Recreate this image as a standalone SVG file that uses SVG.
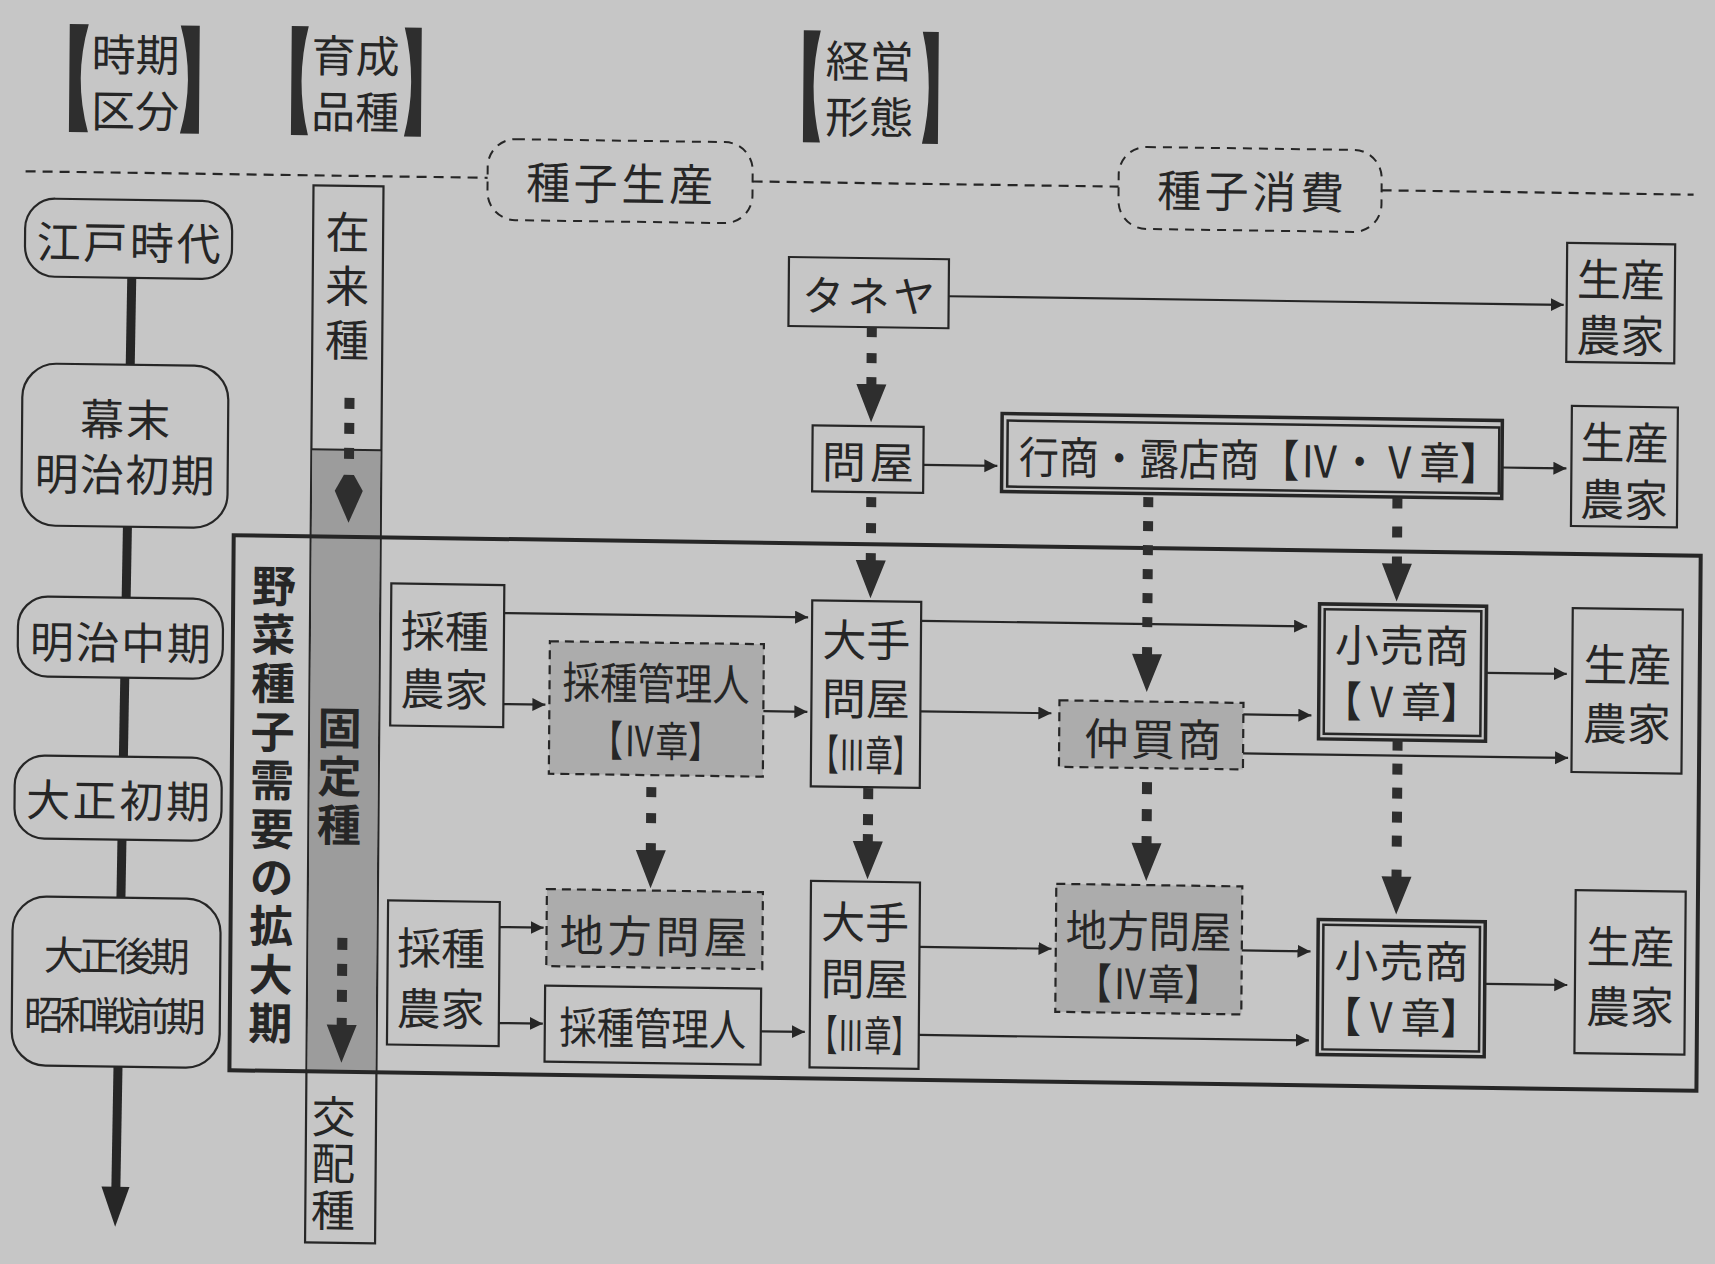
<svg xmlns="http://www.w3.org/2000/svg" width="1715" height="1264" viewBox="0 0 1715 1264">
<defs>
<style>
.t{font-family:"Liberation Sans","Noto Sans CJK JP",sans-serif;font-size:44px;fill:#262626;text-anchor:middle;dominant-baseline:central;transform:translate(0px,4px)}
.v{writing-mode:vertical-rl;transform:translate(-4px,0px)}
.b{font-weight:700}
.s40{font-size:40px}
.s42{font-size:42px}
.box{fill:#c6c6c6;stroke:#262626;stroke-width:2.2}
.shade{fill:#acacac;stroke:#262626;stroke-width:2.2;stroke-dasharray:9 6}
.rdash{fill:none;stroke:#262626;stroke-width:2;stroke-dasharray:9 7}
.sep{fill:none;stroke:#262626;stroke-width:2.2;stroke-dasharray:10 7}
.dbo{fill:none;stroke:#262626;stroke-width:3.5}
.dbi{fill:none;stroke:#262626;stroke-width:2.5}
.ln{stroke:#262626;stroke-width:2.2;fill:none;marker-end:url(#ah)}
.dot{stroke:#2e2e2e;stroke-width:10;fill:none}
.brk{fill:#2e2e2e}
</style>
<marker id="ah" markerUnits="userSpaceOnUse" markerWidth="14" markerHeight="14" refX="13" refY="6.5" orient="auto"><path d="M0,0 L13,6.5 L0,13 z" fill="#262626"/></marker>
<path id="hd" d="M-5,-45 H5 V-38 H15 L0,0 L-15,-38 H-5 Z" fill="#2e2e2e"/>
<path id="kite" d="M-5,-48 H5 L14,-32 L0,0 L-14,-32 Z" fill="#2e2e2e"/>
</defs>
<rect width="1715" height="1264" fill="#c6c6c6"/>
<g transform="matrix(1 0.014 -0.008 1 5.056 -12)">

<g id="separator"><path class="sep" d="M22 183H484M749 183H1115M1378 183H1690"/></g>

<g id="timeline">
<path d="M129 288 L120.4 1199" stroke="#262626" stroke-width="9" fill="none"/>
<polygon points="106,1197 134,1197 120,1237" fill="#262626"/>
</g>

<g id="h-jiki">
<path class="brk" d="M65 35H84Q68.8 89 84 143H65Z"/>
<path class="brk" d="M195 35H176Q191.2 89 176 143H195Z"/>
<text class="t" x="131" y="62">時期</text>
<text class="t" x="131" y="118">区分</text>
</g>
<g id="h-ikusei">
<path class="brk" d="M287 34H304Q290.4 88.5 304 143H287Z"/>
<path class="brk" d="M417 34H400Q413.6 88.5 400 143H417Z"/>
<text class="t" x="351" y="60">育成</text>
<text class="t" x="351" y="116">品種</text>
</g>
<g id="h-keiei">
<path class="brk" d="M799 31H816Q802.4 87 816 143H799Z"/>
<path class="brk" d="M934 31H918Q930.8 87 918 143H934Z"/>
<text class="t" x="865" y="58">経営</text>
<text class="t" x="865" y="114">形態</text>
</g>

<g id="l-seisan"><rect class="rdash" x="484" y="144" width="265" height="81" rx="28"/><text class="t" x="616" y="184" textLength="187">種子生産</text></g>
<g id="l-shohi"><rect class="rdash" x="1115" y="143" width="263" height="82" rx="28"/><text class="t" x="1247" y="183" textLength="187">種子消費</text></g>

<g id="p-edo"><rect class="box" x="22" y="210" width="207" height="78" rx="30"/><text class="t" x="125.5" y="250" textLength="184">江戸時代</text></g>
<g id="p-bakumatsu"><rect class="box" x="20.5" y="375" width="206" height="162" rx="34"/><text class="t" x="123.5" y="427" textLength="90">幕末</text><text class="t" x="123.5" y="482" textLength="180">明治初期</text></g>
<g id="p-meijichu"><rect class="box" x="18" y="608" width="205" height="80" rx="30"/><text class="t" x="120.5" y="650" textLength="181">明治中期</text></g>
<g id="p-taishosho"><rect class="box" x="16" y="767" width="207" height="83" rx="30"/><text class="t" x="119.5" y="808" textLength="184">大正初期</text></g>
<g id="p-taishoko"><rect class="box" x="15" y="908" width="208" height="169" rx="34"/><text class="t s40" x="119.5" y="963" textLength="146">大正後期</text><text class="t s40" x="118" y="1023" textLength="182">昭和戦前期</text></g>

<g id="variety-column">
<rect x="310" y="193" width="70" height="1057" fill="#c6c6c6" stroke="#262626" stroke-width="2.2"/>
<rect x="311" y="457" width="68" height="622" fill="#9c9c9c"/>
<line x1="310" y1="457" x2="380" y2="457" stroke="#262626" stroke-width="2"/>
<text class="t v" x="345" y="298" style="letter-spacing:10px">在来種</text>
<text class="t v b" x="341" y="785.5" style="letter-spacing:4.5px">固定種</text>
<text class="t v" x="338" y="1172" style="letter-spacing:3px">交配種</text>
</g>

<g id="frame">
<rect x="233" y="544" width="1467" height="535" fill="none" stroke="#262626" stroke-width="4"/>
<text class="t v b" x="274" y="814.7" style="letter-spacing:4.6px">野菜種子需要の拡大期</text>
</g>

<g id="n-taneya"><rect class="box" x="786" y="258" width="160" height="69"/><text class="t s42" x="866" y="293" textLength="133">タネヤ</text></g>
<g id="n-tonya"><rect class="box" x="811" y="426" width="111" height="66"/><text class="t" x="866.5" y="459" textLength="92">問屋</text></g>
<g id="n-gyosho"><rect class="dbo" x="1000.4" y="411.5" width="500.2" height="78"/><rect class="dbi" x="1006" y="418.5" width="491.6" height="66"/><text class="t" x="1258" y="451.5" textLength="481" lengthAdjust="spacingAndGlyphs">行商・露店商【Ⅳ・Ⅴ章】</text></g>
<g id="n-farm1"><rect class="box" x="1564" y="233" width="108" height="119"/><text class="t" x="1618" y="266">生産</text><text class="t" x="1618" y="322">農家</text></g>
<g id="n-farm2"><rect class="box" x="1570" y="396" width="106" height="120"/><text class="t" x="1623" y="429">生産</text><text class="t" x="1623" y="486">農家</text></g>
<g id="n-farm3"><rect class="box" x="1572.5" y="598" width="110" height="164"/><text class="t" x="1627.5" y="651">生産</text><text class="t" x="1627.5" y="710">農家</text></g>
<g id="n-farm4"><rect class="box" x="1577.7" y="880" width="110" height="163"/><text class="t" x="1632.7" y="933">生産</text><text class="t" x="1632.7" y="993">農家</text></g>

<g id="n-saishu1"><rect class="box" x="391" y="590" width="113" height="142"/><text class="t" x="445" y="634">採種</text><text class="t" x="445" y="692">農家</text></g>
<g id="n-kanri1"><rect class="shade" x="550" y="645.5" width="214" height="132.5"/><text class="t" x="656.6" y="683" font-size="46" textLength="187" lengthAdjust="spacingAndGlyphs">採種管理人</text><text class="t s42" x="656.6" y="741" textLength="130" lengthAdjust="spacingAndGlyphs">【Ⅳ章】</text></g>
<g id="n-ote1"><rect class="box" x="812" y="601" width="109" height="186"/><text class="t" x="866.5" y="637">大手</text><text class="t" x="866.5" y="695.5">問屋</text><text class="t s42" x="866.5" y="752" textLength="108" lengthAdjust="spacingAndGlyphs">【Ⅲ章】</text></g>
<g id="n-chiho1"><rect class="shade" x="549" y="893.4" width="216" height="77"/><text class="t" x="656" y="936" textLength="188">地方問屋</text></g>
<g id="n-saishu2"><rect class="box" x="390.3" y="907" width="111.7" height="144"/><text class="t" x="443.6" y="951">採種</text><text class="t" x="443.6" y="1011.6">農家</text></g>
<g id="n-kanri2"><rect class="box" x="548" y="990" width="216" height="76"/><text class="t" x="656" y="1028" font-size="46" textLength="187" lengthAdjust="spacingAndGlyphs">採種管理人</text></g>
<g id="n-ote2"><rect class="box" x="813" y="881.6" width="109" height="186.4"/><text class="t" x="867.5" y="919">大手</text><text class="t" x="867.5" y="975.7">問屋</text><text class="t s42" x="867.5" y="1032.4" textLength="108" lengthAdjust="spacingAndGlyphs">【Ⅲ章】</text></g>

<g id="n-nakagai"><rect class="shade" x="1060" y="697.5" width="184" height="66.5"/><text class="t" x="1153.7" y="732" textLength="137">仲買商</text></g>
<g id="n-chiho2"><rect class="shade" x="1058.3" y="881" width="186" height="128"/><text class="t" x="1151" y="923.7" textLength="166" lengthAdjust="spacingAndGlyphs">地方問屋</text><text class="t s42" x="1151" y="977" textLength="145" lengthAdjust="spacingAndGlyphs">【Ⅳ章】</text></g>
<g id="n-kouri1"><rect class="dbo" x="1319.3" y="597.4" width="167" height="135"/><rect class="dbi" x="1324.5" y="602.6" width="156.6" height="124.6"/><text class="t" x="1402" y="634.7" textLength="134">小売商</text><text class="t s42" x="1402" y="691.4" textLength="158" lengthAdjust="spacingAndGlyphs">【Ⅴ章】</text></g>
<g id="n-kouri2"><rect class="dbo" x="1320.5" y="913" width="167" height="135"/><rect class="dbi" x="1325.7" y="918.2" width="156.6" height="124.6"/><text class="t" x="1404" y="950.4" textLength="134">小売商</text><text class="t s42" x="1404" y="1007" textLength="158" lengthAdjust="spacingAndGlyphs">【Ⅴ章】</text></g>

<g id="connectors">
<path class="ln" d="M946 295H1561"/>
<path class="ln" d="M922 464H996"/>
<path class="ln" d="M1500.6 458.5H1565"/>
<path class="ln" d="M504 618H808"/>
<path class="ln" d="M504 709H546"/>
<path class="ln" d="M764 712.5H808"/>
<path class="ln" d="M921 620H1307"/>
<path class="ln" d="M921 710.5H1052"/>
<path class="ln" d="M1244 709H1312"/>
<path class="ln" d="M1244 748H1569"/>
<path class="ln" d="M1486.3 664H1567"/>
<path class="ln" d="M502 932H546"/>
<path class="ln" d="M502 1028H546"/>
<path class="ln" d="M764 1032.6H808"/>
<path class="ln" d="M922 946H1054"/>
<path class="ln" d="M922 1034H1312"/>
<path class="ln" d="M1244.3 945H1313"/>
<path class="ln" d="M1487.5 975H1570"/>

<path class="dot" d="M869.4 327V363" stroke-dasharray="10 16"/>
<use href="#hd" transform="translate(869.4 422)"/>
<path class="dot" d="M870.2 497V533" stroke-dasharray="10 16"/>
<use href="#hd" transform="translate(870.2 598)"/>
<path class="dot" d="M1147.2 493V623" stroke-dasharray="10 14"/>
<use href="#hd" transform="translate(1147.2 688)"/>
<path class="dot" d="M1396.3 490V531" stroke-dasharray="11 18"/>
<use href="#hd" transform="translate(1396.3 594)"/>
<path class="dot" d="M652.6 790V828" stroke-dasharray="10 16"/>
<use href="#hd" transform="translate(652.6 891)"/>
<path class="dot" d="M869.5 788V826" stroke-dasharray="11 15"/>
<use href="#hd" transform="translate(869.5 879)"/>
<path class="dot" d="M1148.2 778V817" stroke-dasharray="12 15"/>
<use href="#hd" transform="translate(1148.2 877)"/>
<path class="dot" d="M1398.4 732V840" stroke-dasharray="11 13"/>
<use href="#hd" transform="translate(1398.4 907)"/>
<path class="dot" d="M347.7 405V467" stroke-dasharray="11 14"/>
<use href="#kite" transform="translate(347.7 530)"/>
<path class="dot" d="M344.9 945V1009" stroke-dasharray="12 14"/>
<use href="#hd" transform="translate(344.9 1070)"/>
</g>
</g>
</svg>
